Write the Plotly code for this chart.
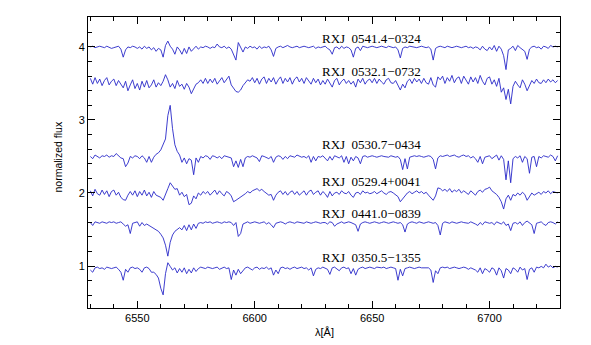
import plotly.graph_objects as go

# wavelength grid (Angstrom), 1 A sampling
wavelength = list(range(6530, 6730))

star_names = ["RXJ  0541.4\u22120324", "RXJ  0532.1\u22120732", "RXJ  0530.7\u22120434",
              "RXJ  0529.4+0041", "RXJ  0441.0\u22120839", "RXJ  0350.5\u22121355"]
# continuum level (offset) of each spectrum in normalized-flux units
offsets = [4.00, 3.52, 2.50, 2.00, 1.595, 0.975]
# label heights (normalized flux units)
label_y = [4.11, 3.66, 2.66, 2.155, 1.715, 1.115]
label_x = 6628.0

# flux deviations from the offset, in units of 0.01 (6530..6729 A)
dev_0541 = [
    0, 1, -1, 0, 1, 0, -1, 1, 0, -2,
    -1, 0, 1, -3, -14, -4, 0, -1, 1, 0,
    -2, 0, -3, 1, -2, 0, -4, -1, -6, -2,
    -4, -14, 2, 8, 1, -3, -10, 0, -4, -10,
    -2, -9, 0, -6, -2, 1, -3, 0, -1, 1,
    0, -2, 0, -1, 4, 0, -1, 1, -2, 0,
    -3, -12, -18, 6, -1, -7, 0, -2, 1, -1,
    0, -3, 1, -2, 0, -1, 1, -4, -13, -2,
    0, 1, -1, 0, 2, 0, -1, 0, 1, -1,
    0, 1, 0, -1, 0, 1, -2, 0, -1, 0,
    1, -2, -4, -10, -1, 0, -3, 1, -2, 0,
    -1, -4, -14, -2, 0, -5, 1, 0, -1, 0,
    1, 0, -1, 0, 1, 0, -1, 1, 0, -1,
    0, -4, -15, -2, 0, -1, 1, 0, 0, -1,
    0, 1, 0, -1, 0, -3, -18, -2, 0, 1,
    0, -1, 1, 0, -1, 0, 1, 0, -1, 0,
    1, -1, 0, -2, 0, -1, -4, 1, -3, -5,
    0, -4, 2, -6, 1, -3, -12, -31, -4, -2,
    1, -5, 2, -1, -3, -6, -17, -3, 0, 1,
    -1, 0, -3, 1, 0, -2, 2, 0, 1, 0,
]
dev_0532 = [
    5, -3, 6, -2, 4, -5, 2, 6, -4, 1,
    4, -5, 2, -4, -8, 1, -12, -4, 3, -9,
    -2, -11, 1, -7, 2, -8, -4, 3, -7, -1,
    -5, 1, 10, 3, -7, -2, -9, 2, -6, -3,
    -10, -2, -7, -16, -9, -3, -1, 3, -2, 5,
    -2, 4, -1, 5, -3, 2, 6, -1, 3, 8,
    -4, -9, -13, -14, -11, -5, -1, 3, 1, 6,
    -1, 5, -3, 4, 7, -2, 5, 0, 6, -3,
    3, 7, -2, 5, 0, 6, -3, 4, 7, 0,
    5, -2, 6, 1, -3, 5, -1, 4, -4, 2,
    -3, 4, -2, -7, 2, 5, -4, 1, 4, -2,
    2, -3, 1, -7, 4, -1, 5, -3, 2, 4,
    -1, 5, -2, 4, 0, -3, 3, 5, -1, -2,
    2, -4, -11, -3, -8, 1, 4, -2, 5, 0,
    4, -2, 5, -1, -3, 6, -4, -7, 7, 3,
    8, -2, 6, 1, 9, -1, 5, 7, -2, 8,
    3, -3, 7, 0, 6, -2, 9, 1, -4, 5,
    7, -3, 3, -6, 5, -14, -8, -24, -10, -30,
    -6, 1, -4, -8, 3, -3, -12, -5, 2, -2,
    4, -1, -2, 3, -1, 4, 0, 3, -1, 2,
]
dev_0530 = [
    0, -3, 2, 0, -2, 1, 0, 2, -1, 1,
    0, 4, 1, -2, -3, -14, -9, 0, -2, 1,
    0, -3, 1, -2, -8, 0, -8, -1, 3, 5,
    9, 17, 24, 56, 70, 38, 16, 7, 2, -8,
    -2, -10, -3, -5, -25, -2, -8, 0, -2, 1,
    0, -4, 1, 0, -2, 0, -3, 1, 0, -1,
    -2, -14, -6, -15, -4, -14, -2, 0, -1, 1,
    0, -2, -7, 1, 0, -1, -3, 0, -8, -1,
    1, 0, -4, 0, -3, 1, 0, -1, 2, 0,
    -1, 0, -2, 1, -8, 0, -6, 0, -1, 1,
    -3, -6, 0, -5, 1, 0, -2, 1, -8, 0,
    -10, -1, -6, 0, -2, -10, 0, 1, -1, 0,
    1, 0, -1, 0, 1, 0, 0, -1, 1, 0,
    -1, 0, -4, -18, -3, -17, -1, 0, 1, 0,
    1, 0, -1, 0, 1, 0, -4, -17, -2, 1,
    0, 1, 2, 0, 1, 2, 0, -1, 1, 2,
    0, 1, -2, 0, -3, -8, 0, -10, -1, 0,
    1, -3, 0, 2, -5, 1, -4, -32, -6, -36,
    -3, 0, -2, 1, -8, 0, -3, -23, -1, 0,
    -14, 0, -2, 1, 0, -1, 2, 0, -6, 1,
]
dev_0529 = [
    3, -4, 5, -1, -3, 4, -2, 3, -5, 2,
    4, -3, 1, -6, -9, -10, -3, 2, -3, 3,
    -5, 2, -3, 4, -4, 1, -6, 2, -3, -4,
    -6, -10, -3, 6, 14, 9, 5, 6, -3, 1,
    -5, -2, -16, -14, -4, -8, 0, -3, 2, -1,
    2, -3, 1, 4, -2, 3, -1, -4, 2, 0,
    -4, -12, -10, -8, -6, -3, -1, 2, 0, 3,
    4, 6, 3, 5, 2, 0, -3, -2, -10, -3,
    1, 3, -2, 2, -3, 1, 3, -2, 2, -3,
    0, 3, -3, 2, 4, -2, 1, 3, -3, 2,
    -1, -6, 2, -4, 0, 1, -2, 3, 0, -1,
    2, -3, -6, 0, 1, -2, 3, 0, 1, -1,
    0, 2, -1, 1, 3, 0, -2, 1, 2, 0,
    -2, -5, -12, -8, -3, 0, 2, -1, 1, 3,
    0, 2, -1, 1, -3, -6, -10, -4, 7, 6,
    3, 5, 2, 6, 1, 4, 2, 5, 0, 3,
    1, -2, 3, 0, -3, 2, 4, 1, 5, 6,
    8, 3, 1, -2, -6, -12, -22, -8, -3, -10,
    -2, -4, 0, -3, 1, -2, -10, -4, 0, -3,
    -1, 1, -2, 2, 0, 3, -1, 2, 1, 0,
]
dev_0441 = [
    0, -4, 1, 0, -1, 1, 0, -1, 1, 0,
    1, -1, 0, 1, -2, -5, -3, -15, -1, 0,
    1, -5, 0, -4, -2, -4, -6, -7, -9, -12,
    -16, -21, -31, -46, -27, -17, -12, -9, -7, -10,
    -4, -11, -3, -10, -2, -8, -1, 0, -1, 1,
    0, 1, -1, 0, 1, 0, -1, 1, 0, 1,
    0, -4, 0, -19, -15, -2, 0, 1, -1, 0,
    1, 0, -1, 0, 1, -2, 0, -3, -7, -1,
    0, 1, 0, -2, 0, 1, 0, -1, 1, 0,
    0, -1, 1, 0, -1, 0, 1, 0, -1, 0,
    0, -2, 1, 0, -5, -2, 0, 1, -1, 0,
    1, 0, -1, -3, -12, -2, 0, 1, 0, -1,
    0, 1, 0, -1, 0, 1, 0, -1, 0, 1,
    0, -1, 0, -3, -13, -2, 0, 1, 0, -1,
    1, 0, -1, 0, 1, 0, -1, 0, -4, -17,
    -1, 1, 0, -1, 1, 0, -1, 0, 1, 0,
    0, -1, 1, 0, -2, -4, 0, -3, 1, 0,
    -1, 0, -3, 1, 0, -2, 1, -4, -2, -11,
    -1, 0, -2, 1, -4, 0, 2, 0, -3, -15,
    -1, 0, 1, -2, -4, 0, 1, 0, -2, 1,
]
dev_0350 = [
    -3, -6, 0, 1, -1, 0, -2, 1, 0, -1,
    0, 1, -2, -6, -17, -2, -6, 0, 1, -1,
    0, -2, -6, 0, 1, -1, -6, -6, -9, -14,
    -28, -37, -8, 7, 2, -3, 0, -7, -1, -6,
    0, -8, -2, -7, 0, -5, -1, 1, 0, -1,
    1, 0, -1, 0, 1, -2, 0, 1, -1, 0,
    -16, -3, -10, -2, -8, -4, 0, 1, -1, -3,
    0, 1, -2, 0, -1, 1, -2, 0, -10, -3,
    -8, 0, 1, -1, 0, -2, 0, 1, -1, 0,
    1, -1, 0, -3, 0, -11, -2, 0, -1, 1,
    0, -2, -9, 0, 1, -1, -4, 0, 1, -1,
    0, -8, -1, -10, -2, 0, 1, -1, 0, 1,
    0, -1, 1, 0, 0, 1, -1, 0, 1, 0,
    -1, -17, -2, -11, -1, 0, 1, 0, -1, 0,
    1, 0, 0, -1, 0, -3, -20, -4, -8, 0,
    1, 0, 1, -1, 0, 1, 0, -1, 0, 1,
    0, -2, 0, -1, -3, -6, 0, -8, -1, -3,
    -6, 0, -2, -10, 0, -4, -14, -1, -3, -8,
    0, -2, -6, 1, -3, -1, -16, -2, 0, -6,
    1, 0, 2, 0, 5, 1, 3, 0, 2, 1,
]
deviations = [dev_0541, dev_0532, dev_0530, dev_0529, dev_0441, dev_0350]

x_ticks = [6550, 6600, 6650, 6700]
y_ticks = [1, 2, 3, 4]

line_color = "#2828c8"
fig = go.Figure()
for name, off, dev in zip(star_names, offsets, deviations):
    flux = [off + d / 100.0 for d in dev]
    fig.add_trace(go.Scatter(x=wavelength, y=flux, mode="lines", name=name,
                             line=dict(color=line_color, width=0.9), showlegend=False))

annotations = []
for name, ly in zip(star_names, label_y):
    annotations.append(dict(x=label_x, y=ly, xref="x", yref="y", text=name, showarrow=False,
                            xanchor="left", yanchor="middle",
                            font=dict(family="Liberation Serif", size=13, color="black")))
annotations.append(dict(x=-0.064, y=0.52, xref="paper", yref="paper", text="normalized flux",
                        showarrow=False, textangle=-90, xanchor="center", yanchor="middle",
                        font=dict(family="Liberation Sans", size=10.5, color="black")))
annotations.append(dict(x=0.502, y=-0.082, xref="paper", yref="paper", text="\u03bb[\u00c5]",
                        showarrow=False, xanchor="center", yanchor="middle",
                        font=dict(family="Liberation Sans", size=11, color="black")))

axis_common = dict(showline=True, linecolor="black", linewidth=1, mirror="ticks",
                   ticks="inside", ticklen=7, tickcolor="black", tickwidth=1,
                   showgrid=False, zeroline=False,
                   tickfont=dict(family="Liberation Sans", size=11, color="black"))

fig.update_layout(
    width=591, height=345,
    margin=dict(l=88, r=31, t=17, b=37),
    paper_bgcolor="white", plot_bgcolor="white",
    xaxis=dict(range=[6529, 6730], tickvals=x_ticks,
               minor=dict(ticks="inside", ticklen=4, dtick=10, tick0=6500, tickcolor="black", showgrid=False),
               **axis_common),
    yaxis=dict(range=[0.425, 4.41], tickvals=y_ticks,
               minor=dict(ticks="inside", ticklen=4, dtick=0.2, tick0=0, tickcolor="black", showgrid=False),
               **axis_common),
    annotations=annotations,
)
fig.write_html("out.html")
